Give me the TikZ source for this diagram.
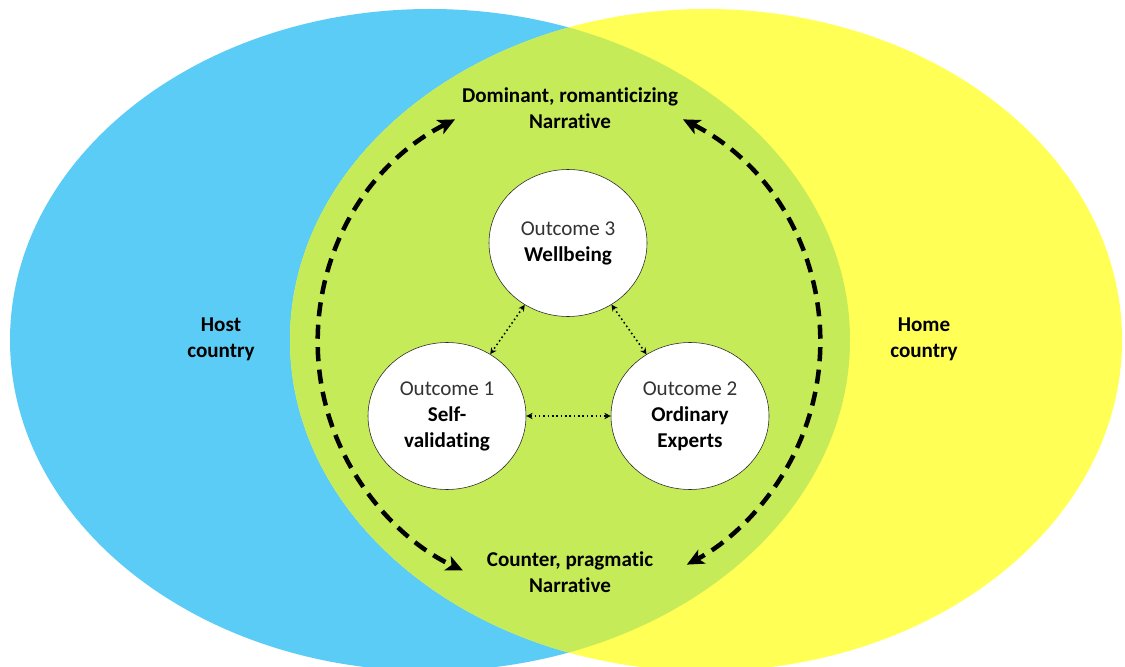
\documentclass[tikz,border=0pt]{standalone}
\usepackage{fontspec}
\setmainfont{Carlito}[Ligatures=NoCommon]
\usetikzlibrary{arrows.meta,shapes.geometric}
\definecolor{hostblue}{RGB}{91,204,245}
\definecolor{homeyellow}{RGB}{255,255,85}
\definecolor{mixgreen}{RGB}{197,235,88}
\begin{document}
\begin{tikzpicture}
\tikzset{outcome/.style={draw=black!85,thin,fill=white,ellipse,minimum width=3.95cm,minimum height=3.675cm,inner sep=0pt,align=center,font=\fontsize{15}{18.5}\selectfont},
lbl/.style={align=center,font=\fontsize{15}{18.5}\selectfont\bfseries},
narr/.style={line width=3.2pt,dash pattern=on 10pt off 6pt,{Stealth[length=12pt,width=11pt,inset=3pt]}-{Stealth[length=12pt,width=11pt,inset=3pt]}},
link/.style={line width=1.1pt,dotted,{Stealth[length=4.5pt,width=4.5pt]}-{Stealth[length=4.5pt,width=4.5pt]}}}
\useasboundingbox (0,0) rectangle (28.125,16.65);
\fill[hostblue] (10.75,8.15) ellipse (10.5cm and 8.275cm);
\fill[homeyellow] (17.65,8.15) ellipse (10.4cm and 8.275cm);
\begin{scope}
\clip (10.75,8.15) ellipse (10.5cm and 8.275cm);
\fill[mixgreen] (17.65,8.15) ellipse (10.4cm and 8.275cm);
\end{scope}
\node [lbl] (host) at (5.525,8.175) {Host\\country};
\node [lbl] (home) at (23.1,8.175) {Home\\country};
\node [lbl] (dom) at (14.25,13.95) {Dominant, romanticizing\\Narrative};
\node [lbl] (counter) at (14.25,2.35) {Counter, pragmatic\\Narrative};
% the two narratives, left and right
\draw[narr] (14.225,8.075) ++(117:6.275cm) arc[start angle=117,end angle=245,radius=6.275cm];
\draw[narr] (14.225,8.075) ++(63:6.275cm) arc[start angle=63,end angle=-62,radius=6.275cm];
\node [outcome] (o3) at (14.2,10.575) {\textcolor{black!80}{Outcome 3}\\\textbf{Wellbeing}};
\node [outcome] (o1) at (11.175,6.25) {\textcolor{black!80}{Outcome 1}\\\textbf{Self-}\\\textbf{validating}};
\node [outcome] (o2) at (17.25,6.25) {\textcolor{black!80}{Outcome 2}\\\textbf{Ordinary}\\\textbf{Experts}};
\draw[link] (o1) -- (o2);
\draw[link] (o3) -- (o1);
\draw[link] (o3) -- (o2);
\end{tikzpicture}
\end{document}
